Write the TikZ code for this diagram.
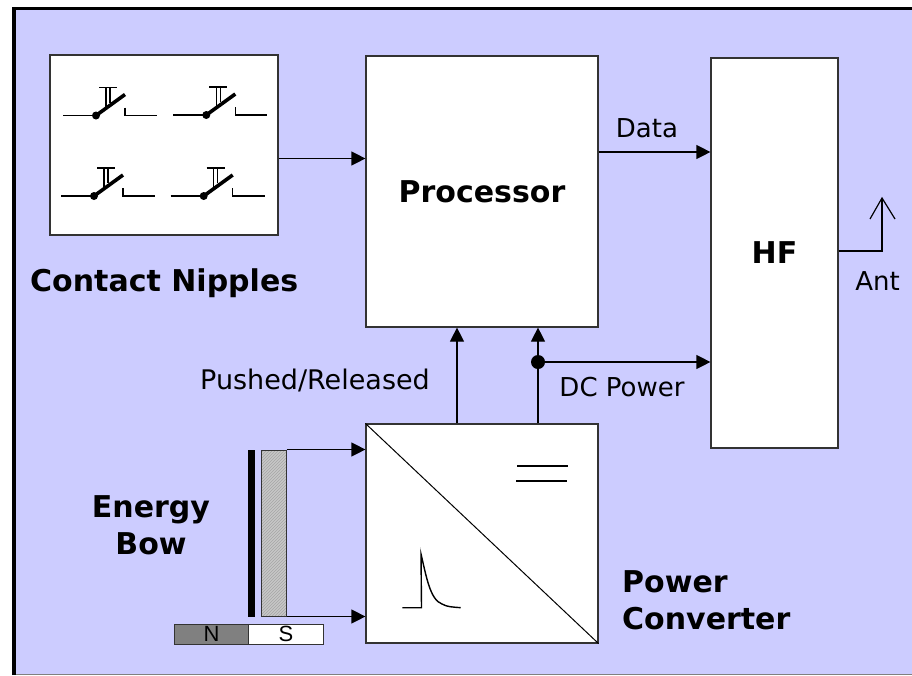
\documentclass[tikz,border=0pt]{standalone}
\usepackage{fontspec}
\setmainfont{DejaVu Sans}
\newfontfamily\magnetfont{Liberation Sans}
\usetikzlibrary{arrows.meta,patterns}
\definecolor{lilac}{RGB}{204,204,255}
\tikzset{
  block/.style={rectangle,draw=black!80,line width=1.2pt,fill=white,inner sep=0pt},
  title/.style={font=\bfseries\fontsize{30}{37}\selectfont,inner sep=0pt},
  label/.style={font=\fontsize{26}{30}\selectfont,inner sep=0pt},
  pole/.style={rectangle,draw=black!80,line width=1pt,minimum width=75pt,minimum height=20pt,inner sep=0pt,font=\magnetfont\fontsize{22}{22}\selectfont},
  wire/.style={line width=1.2pt},
  flow/.style={wire,-{Triangle[length=14pt,width=14pt]}}
}
\newcommand{\nipple}[2]{
  \begin{scope}[shift={(#1,#2)}]
    \draw[line width=1.4pt] (-33,0) -- (0,0);
    \fill (0,0) circle (4);
    \draw[line width=3.6pt] (0,0) -- (29,-21);
    \draw[line width=1.2pt] (3,-28) -- (21,-28);
    \draw[line width=1.2pt] (10,-28) -- (10,-8);
    \draw[line width=1.2pt] (14,-28) -- (14,-13);
    \draw[line width=1.4pt] (29,-8) -- (29,0) -- (61,0);
  \end{scope}
}
\begin{document}
\begin{tikzpicture}[x=1pt,y=-1pt]
  \useasboundingbox (0,0) rectangle (912,675);
  \fill[lilac] (14,9) rectangle (912,674);
  \draw[black!50,line width=.8pt] (14,674.5) -- (912,674.5);
  \draw[line width=3.6pt] (14,675) -- (14,8.5) -- (912,8.5);
  % blocks
  \node[block,minimum width=228pt,minimum height=180pt] (nipples) at (164,145) {};
  \node[block,minimum width=232pt,minimum height=271pt,title] (processor) at (482,191.5) {\raisebox{-2pt}{Processor}};
  \node[block,minimum width=127pt,minimum height=390pt,title] (hf) at (774.5,253) {\raisebox{-2pt}{HF}};
  \node[block,minimum width=232pt,minimum height=219pt] (converter) at (482,533.5) {};
  % energy bow
  \node[rectangle,fill=black,minimum width=7pt,minimum height=167pt,inner sep=0pt] (bow) at (251.5,533) {};
  \node[rectangle,draw=black!80,line width=1pt,preaction={fill=black!22},pattern=north east lines,pattern color=black!35,minimum width=25pt,minimum height=166pt,inner sep=0pt] (coil) at (273.5,533) {};
  \node[pole,fill=black!50] (north) at (211.5,634) {N};
  \node[pole,fill=white] (south) at (286,634) {S};
  % switches
  \nipple{96}{115.5}
  \nipple{206.3}{115}
  \nipple{94}{196}
  \nipple{203.7}{196}
  % converter symbols
  \draw[line width=1pt] (converter.north west) -- (converter.south east);
  \draw[wire] (517,466) -- (568,466);
  \draw[wire] (516,481) -- (567,481);
  \draw[line width=1.4pt] (402.3,607.7) -- (421.5,607.7) -- (421,554) .. controls (426,575) and (430,600) .. (442,604) .. controls (447,607) and (453,607) .. (460.7,607.7);
  % connectors
  \coordinate (junction) at (538,362);
  \coordinate (antfoot) at (882,251);
  \coordinate (anttip) at (882,198);
  \draw[flow] (nipples.east |- 0,158.5) -- (processor.west |- 0,158.5);
  \draw[flow] (processor.east |- 0,152) -- (hf.west |- 0,152);
  \draw[flow] (converter.north -| 457,0) -- (processor.south -| 457,0);
  \draw[flow] (converter.north -| junction) -- (processor.south -| junction);
  \fill (junction) circle (7);
  \draw[flow] (junction) -- (hf.west |- junction);
  \draw[flow] (coil.north east) -- (converter.west |- coil.north east);
  \draw[flow] (coil.south east) -- (converter.west |- coil.south east);
  \draw[wire] (hf.east |- antfoot) -- (antfoot) -- (anttip);
  \draw[wire] (870,219) -- (anttip) -- (895,219);
  % labels
  \node[title,anchor=west] (nippleslabel) at (30,283) {Contact Nipples};
  \node[title,align=center] (bowlabel) at (151,525.5) {Energy\\Bow};
  \node[title,align=left,anchor=west] (converterlabel) at (622,600) {Power\\Converter};
  \node[label] (datalabel) at (647,128) {Data};
  \node[label,font=\fontsize{27}{30}\selectfont] (pushedlabel) at (315,380) {Pushed/Released};
  \node[label] (dclabel) at (622,387) {DC Power};
  \node[label] (antlabel) at (877.5,281) {Ant};
\end{tikzpicture}
\end{document}
